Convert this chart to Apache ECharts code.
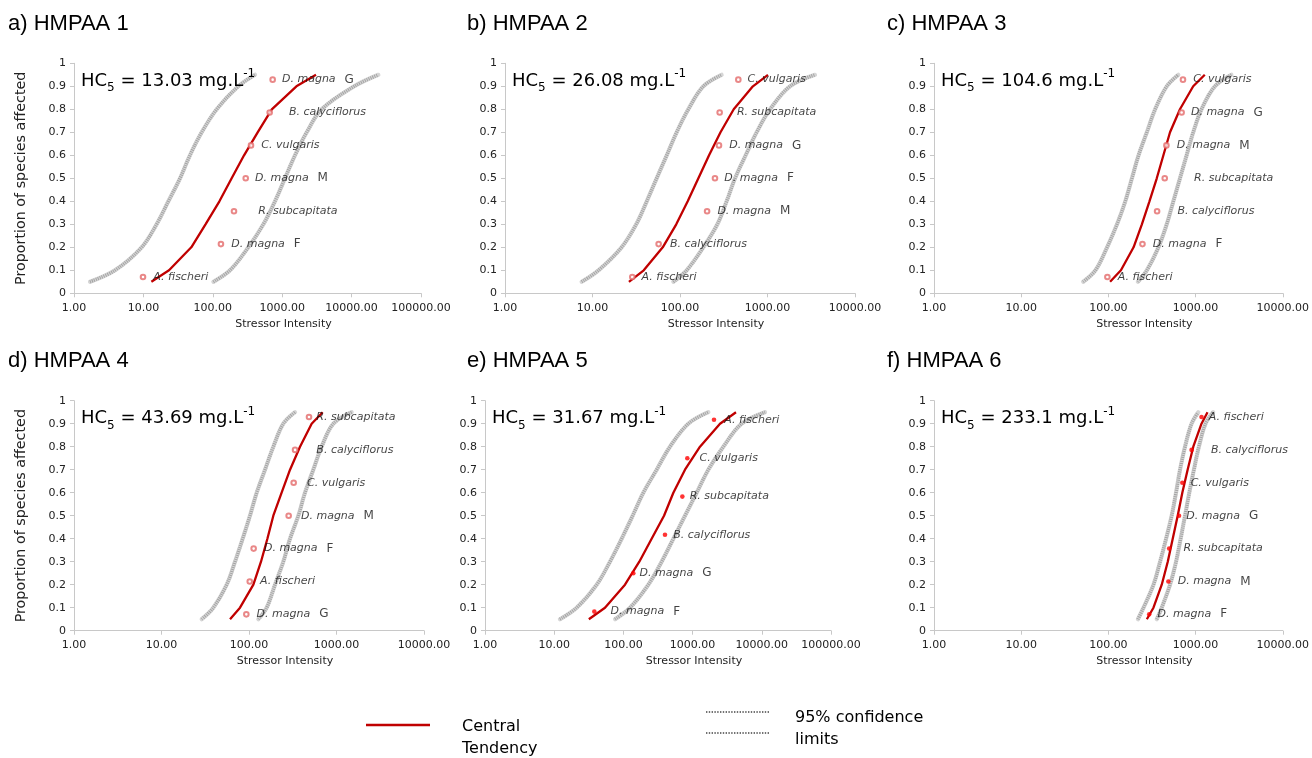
<!DOCTYPE html>
<html>
<head>
<meta charset="utf-8">
<script src="https://cdn.jsdelivr.net/npm/echarts@6/dist/echarts.min.js"></script>
<style>html,body{margin:0;padding:0;background:#fff}#c{width:1312px;height:758px}</style>
</head>
<body>
<div id="c"></div>
<script>
// ---------- DATA ----------
const curveP = [0.05, 0.1, 0.2, 0.3, 0.4, 0.5, 0.6, 0.7, 0.8, 0.9, 0.95];
const rank7 = [0.071, 0.214, 0.357, 0.5, 0.643, 0.786, 0.929];
const rank6 = [0.083, 0.25, 0.417, 0.583, 0.75, 0.917];
const titles = ['a) HMPAA 1', 'b) HMPAA 2', 'c) HMPAA 3', 'd) HMPAA 4', 'e) HMPAA 5', 'f) HMPAA 6'];
const hc5 = ['13.03', '26.08', '104.6', '43.69', '31.67', '233.1'];
const xTickMax = [100000, 10000, 10000, 10000, 100000, 10000];

const speciesA = ['A. fischeri', 'D. magna F', 'R. subcapitata', 'D. magna M', 'C. vulgaris', 'B. calyciflorus', 'D. magna G'];
const toxA = [9.87, 131, 202, 298, 355, 660, 729];
const centralA = [13.03, 23.4, 49.0, 78.5, 124.5, 187, 282, 443, 708, 1603, 3069];
const lowerA = [1.70, 3.89, 9.44, 15.5, 22.9, 33.7, 46.8, 69.2, 113.8, 233, 406];
const upperA = [101.9, 177, 325, 535, 787, 1096, 1528, 2254, 3707, 10900, 24270];

const speciesB = ['A. fischeri', 'B. calyciflorus', 'D. magna M', 'D. magna F', 'D. magna G', 'R. subcapitata', 'C. vulgaris'];
const toxB = [28.5, 57, 204, 251, 279, 284, 464];
const centralB = [26.08, 38.5, 63.5, 90.6, 122.5, 162.2, 214.8, 290.4, 411.1, 680.8, 1012];
const lowerB = [7.52, 11.7, 21.5, 31.6, 41.7, 54.1, 70.5, 91.6, 124.5, 184.9, 299];
const upperB = [83.9, 119.1, 184.9, 267.3, 341.2, 425.6, 562.3, 751.6, 1069, 1807, 3491];

const speciesC = ['A. fischeri', 'D. magna F', 'B. calyciflorus', 'R. subcapitata', 'D. magna M', 'D. magna G', 'C. vulgaris'];
const toxC = [97.4, 246, 362, 443, 463, 692, 717];
const centralC = [104.6, 139.3, 194.5, 242.1, 295.8, 358.9, 427.6, 509.3, 662.2, 939.7, 1276];
const lowerC = [51.4, 71.1, 96.6, 125.6, 156.3, 186.2, 221.8, 276.1, 343.6, 466.7, 633.9];
const upperC = [217.8, 276.1, 375.0, 466.7, 555.9, 662.2, 788.9, 939.7, 1169.5, 1663, 2576];

const speciesD = ['D. magna G', 'A. fischeri', 'D. magna F', 'D. magna M', 'C. vulgaris', 'B. calyciflorus', 'R. subcapitata'];
const toxD = [93.2, 102, 113, 284, 324, 336, 485];
const centralD = [60.7, 78.9, 112.2, 137.1, 162.2, 189.7, 236.0, 294.4, 382.8, 520.0, 695.0];
const lowerD = [28.8, 39.1, 55.6, 69.2, 84.7, 102.6, 122.5, 152.4, 189.7, 246.6, 335.7];
const upperD = [127.9, 159.2, 198.2, 246.6, 294.4, 366.4, 436.5, 543.3, 676.1, 920.4, 1489];

const speciesE = ['D. magna F', 'D. magna G', 'B. calyciflorus', 'R. subcapitata', 'C. vulgaris', 'A. fischeri'];
const toxE = [38, 139, 399, 711, 839, 2038];
const centralE = [31.67, 54.2, 105.4, 169.8, 255.9, 386.4, 527.2, 776.2, 1279, 2489, 4236];
const lowerE = [12.1, 21.1, 41.1, 64.0, 94.4, 136.1, 194.1, 302.7, 470.9, 867.0, 1687];
const upperE = [75.7, 124.5, 229.1, 357.3, 527.2, 776.2, 1146, 1687, 2780, 5117, 11117];

const speciesF = ['D. magna F', 'D. magna M', 'R. subcapitata', 'D. magna G', 'C. vulgaris', 'B. calyciflorus', 'A. fischeri'];
const toxF = [294, 488, 498, 646, 705, 900, 1170];
const centralF = [276.1, 328.9, 409.3, 479.7, 547.0, 623.7, 704.7, 811.0, 941.9, 1169.5, 1371];
const lowerF = [218.3, 252.9, 328.9, 391.7, 459.2, 532.1, 597.0, 663.7, 756.8, 899.5, 1074];
const upperF = [358.9, 409.3, 509.3, 597.0, 674.5, 756.8, 847.2, 957.2, 1091, 1300, 1592];

const panels = [
  {species: speciesA, tox: toxA, rank: rank7, central: centralA, lower: lowerA, upper: upperA},
  {species: speciesB, tox: toxB, rank: rank7, central: centralB, lower: lowerB, upper: upperB},
  {species: speciesC, tox: toxC, rank: rank7, central: centralC, lower: lowerC, upper: upperC},
  {species: speciesD, tox: toxD, rank: rank7, central: centralD, lower: lowerD, upper: upperD},
  {species: speciesE, tox: toxE, rank: rank6, central: centralE, lower: lowerE, upper: upperE},
  {species: speciesF, tox: toxF, rank: rank7, central: centralF, lower: lowerF, upper: upperF}
];

// ---------- LAYOUT / STYLE ----------
const layout = [
  {left: 74, top: 63.3, width: 347, height: 230, tx: 8, ty: 13, yName: true, hollow: true, gaps: [10, 10, 24, 9, 10, 19, 9]},
  {left: 505, top: 63.3, width: 350, height: 230, tx: 467, ty: 13, yName: false, hollow: true, gaps: [9, 11, 10, 9, 10, 17, 9]},
  {left: 934, top: 63.3, width: 351, height: 230, tx: 887, ty: 13, yName: false, hollow: true, gaps: [10, 10, 20, 29, 10, 9, 10]},
  {left: 74, top: 400.7, width: 350, height: 230, tx: 8, ty: 350, yName: true, hollow: true, gaps: [10, 10, 10, 12, 13, 21, 7]},
  {left: 485, top: 400.7, width: 346, height: 230, tx: 467, ty: 350, yName: false, hollow: false, gaps: [17, 7, 9, 8, 13, 11]},
  {left: 934, top: 400.7, width: 351, height: 230, tx: 887, ty: 350, yName: false, hollow: false, gaps: [9, 10, 15, 8, 9, 20, 8]}
];
const FONT = '"DejaVu Sans", Verdana, sans-serif';
const RED = '#c00000';
const AXIS = '#c8c8c8';

const grid = [], xAxis = [], yAxis = [], series = [], title = [], graphic = [];

function labelFmt(p) {
  const m = /^(D\. magna) ([GMF])$/.exec(p.name);
  if (m) return '{i|' + m[1] + '}{l|' + m[2] + '}';
  return '{i|' + p.name + '}';
}

panels.forEach((d, k) => {
  const L = layout[k];
  grid.push({left: L.left, top: L.top, width: L.width, height: L.height, containLabel: false});
  xAxis.push({
    type: 'log', logBase: 10, min: 1, max: xTickMax[k], gridIndex: k,
    name: 'Stressor Intensity', nameLocation: 'middle', nameGap: 25,
    nameTextStyle: {fontFamily: FONT, fontSize: 11, color: '#222', padding: [0, 0, 0, 72]},
    axisLine: {show: true, lineStyle: {color: AXIS, width: 1}},
    axisTick: {show: true, length: 4, lineStyle: {color: AXIS}},
    minorTick: {show: false},
    splitLine: {show: false},
    axisLabel: {fontFamily: FONT, fontSize: 11, color: '#222', margin: 9, formatter: v => Number(v).toFixed(2)}
  });
  yAxis.push({
    type: 'value', min: 0, max: 1, interval: 0.1, gridIndex: k,
    name: L.yName ? 'Proportion of species affected' : '',
    nameLocation: 'middle', nameGap: 46, nameRotate: 90,
    nameTextStyle: {fontFamily: FONT, fontSize: 14.3, color: '#222'},
    axisLine: {show: true, lineStyle: {color: AXIS, width: 1}},
    axisTick: {show: true, length: 4, lineStyle: {color: AXIS}},
    splitLine: {show: false},
    axisLabel: {fontFamily: FONT, fontSize: 11, color: '#222', margin: 8, formatter: v => String(+v.toFixed(1))}
  });
  const ci = [d.lower, d.upper];
  ci.forEach(arr => {
    const pts = arr.map((x, i) => [x, curveP[i]]);
    series.push({type: 'line', xAxisIndex: k, yAxisIndex: k, data: pts, showSymbol: false, smooth: 0.35,
      silent: true, z: 2, lineStyle: {color: '#d6d6d6', width: 4.2, cap: 'round'}});
    series.push({type: 'line', xAxisIndex: k, yAxisIndex: k, data: pts, showSymbol: false, smooth: 0.35,
      silent: true, z: 3, lineStyle: {color: '#a4a4a4', width: 3.4, type: [1, 1.1], cap: 'butt'}});
  });
  series.push({type: 'line', xAxisIndex: k, yAxisIndex: k, data: d.central.map((x, i) => [x, curveP[i]]),
    showSymbol: false, silent: true, z: 4, lineStyle: {color: RED, width: 2.3}});
  series.push({
    type: 'scatter', xAxisIndex: k, yAxisIndex: k, z: 5,
    symbol: L.hollow ? 'emptyCircle' : 'circle', symbolSize: L.hollow ? 4.6 : 4.6,
    itemStyle: L.hollow ? {color: '#e46a6a', borderWidth: 0.9} : {color: '#ff0000'},
    data: d.tox.map((x, i) => ({name: d.species[i], value: [x, d.rank[i]], label: {distance: Math.max(1, L.gaps[i] - 3)}})),
    label: {
      show: true, position: 'right', formatter: labelFmt,
      rich: {
        i: {fontFamily: FONT, fontStyle: 'italic', fontSize: 11, color: '#111'},
        l: {fontFamily: FONT, fontSize: 12, color: '#111', padding: [0, 0, 0, 9]}
      }
    }
  });
  title.push({text: titles[k], left: L.tx, top: L.ty, padding: 0,
    textStyle: {fontFamily: '"Liberation Sans", Arial, sans-serif', fontSize: 22, fontWeight: 'normal', color: '#000'}});
  graphic.push({
    type: 'text', left: L.left + 7, top: L.top + 5, z: 10,
    style: {
      text: '{b|HC}{s|5}{b| = ' + hc5[k] + ' mg.L}{p|-1}',
      rich: {
        b: {fontFamily: FONT, fontSize: 18, color: '#000', lineHeight: 26, verticalAlign: 'middle'},
        s: {fontFamily: FONT, fontSize: 12, color: '#000', lineHeight: 26, verticalAlign: 'bottom'},
        p: {fontFamily: FONT, fontSize: 12, color: '#000', lineHeight: 26, verticalAlign: 'top'}
      }
    }
  });
});

// legend (drawn)
graphic.push(
  {type: 'line', shape: {x1: 366, y1: 725, x2: 430, y2: 725}, style: {stroke: RED, lineWidth: 2.5}},
  {type: 'text', left: 462, top: 716, style: {text: 'Central\nTendency', fontFamily: FONT, fontSize: 16, lineHeight: 22, fill: '#000'}},
  {type: 'line', shape: {x1: 706, y1: 712, x2: 770, y2: 712}, style: {stroke: '#444', lineWidth: 1.6, lineDash: [1.4, 1.4]}},
  {type: 'line', shape: {x1: 706, y1: 733, x2: 770, y2: 733}, style: {stroke: '#444', lineWidth: 1.6, lineDash: [1.4, 1.4]}},
  {type: 'text', left: 795, top: 707, style: {text: '95% confidence\nlimits', fontFamily: FONT, fontSize: 16, lineHeight: 22, fill: '#000'}}
);

const chart = echarts.init(document.getElementById('c'), null, {renderer: 'canvas'});
chart.setOption({
  animation: false,
  backgroundColor: '#fff',
  title, grid, xAxis, yAxis, series, graphic
});
</script>
</body>
</html>
